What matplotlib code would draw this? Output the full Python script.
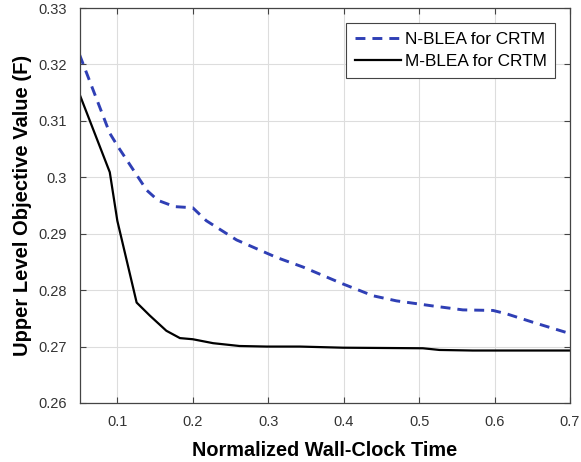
import numpy as np
import matplotlib
matplotlib.use("Agg")
import matplotlib.pyplot as plt

plt.rcParams['font.family'] = ['Liberation Sans', 'DejaVu Sans']

# N-BLEA for CRTM (dashed blue)
n_x = [0.05, 0.090, 0.101, 0.139, 0.154, 0.176, 0.200, 0.218, 0.258, 0.311,
       0.346, 0.399, 0.439, 0.470, 0.518, 0.558, 0.598, 0.616, 0.651, 0.70]
n_y = [0.3217, 0.3078, 0.3054, 0.2977, 0.2959, 0.2948, 0.2946, 0.2923, 0.2889, 0.2858,
       0.2841, 0.2811, 0.2790, 0.2781, 0.2772, 0.2765, 0.2764, 0.2758, 0.2743, 0.2723]

# M-BLEA for CRTM (solid black)
m_x = [0.05, 0.090, 0.100, 0.1256, 0.143, 0.165, 0.183, 0.200, 0.227, 0.262,
       0.298, 0.342, 0.399, 0.505, 0.527, 0.571, 0.70]
m_y = [0.3147, 0.3009, 0.2923, 0.2778, 0.2755, 0.2728, 0.2715, 0.2713, 0.2706, 0.2701,
       0.2700, 0.2700, 0.2698, 0.2697, 0.2694, 0.2693, 0.2693]

fig = plt.figure(figsize=(5.81, 4.62), dpi=100)
ax = fig.add_axes([79.6 / 581, 1 - 403 / 462, (570 - 79.6) / 581, (403 - 8) / 462])

ax.plot(n_x, n_y, linestyle=(0, (3.4, 2.4)), color='#2f3fb5', linewidth=2.1, label='N-BLEA for CRTM')
ax.plot(m_x, m_y, color='black', linewidth=1.6, label='M-BLEA for CRTM')

ax.set_xlim(0.05, 0.7)
ax.set_ylim(0.26, 0.33)
ax.set_xticks([0.1, 0.2, 0.3, 0.4, 0.5, 0.6, 0.7])
ax.set_xticklabels(['0.1', '0.2', '0.3', '0.4', '0.5', '0.6', '0.7'])
ax.set_yticks([0.26, 0.27, 0.28, 0.29, 0.3, 0.31, 0.32, 0.33])
ax.set_yticklabels(['0.26', '0.27', '0.28', '0.29', '0.3', '0.31', '0.32', '0.33'])
ax.grid(True, color='#dddddd', linewidth=0.8)
ax.tick_params(direction='in', top=True, right=True, length=4, colors='#444444',
               labelsize=10.5, labelcolor='#333333', pad=9)
for s in ax.spines.values():
    s.set_color('#444444')
    s.set_linewidth(0.9)

ax.set_xlabel('Normalized Wall-Clock Time', fontsize=14.3, fontweight='bold', labelpad=8)
ax.set_ylabel('Upper Level Objective Value (F)', fontsize=14.5, fontweight='bold', labelpad=5)

leg = ax.legend(loc='upper right', bbox_to_anchor=(555 / 581, 1 - 23 / 462), bbox_transform=fig.transFigure,
                borderaxespad=0, fontsize=12.4, fancybox=False, framealpha=1, edgecolor='#444444',
                handlelength=2.7, handletextpad=0.2, borderpad=0.5, labelspacing=0.45)
leg.get_frame().set_linewidth(0.8)

fig.savefig('out.png', dpi=100)
